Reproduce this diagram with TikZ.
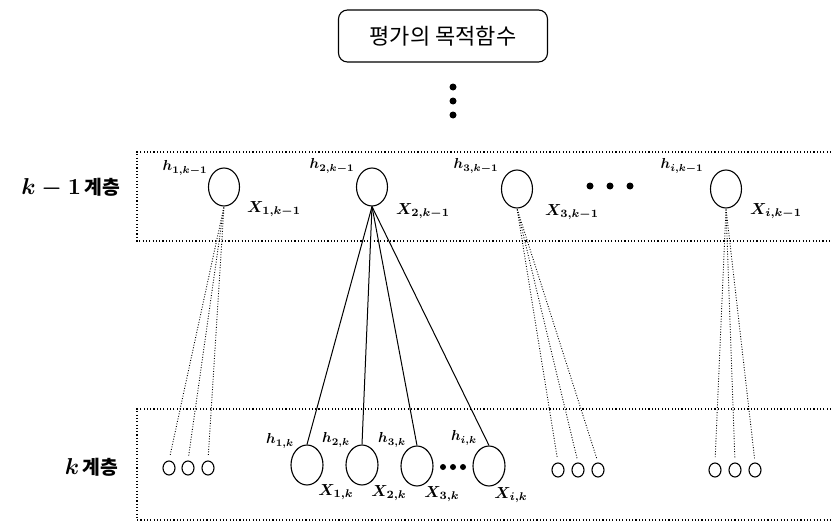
\documentclass[tikz,border=0pt]{standalone}
\usepackage{fontspec}
\newfontfamily\kr{Noto Sans CJK KR}
\usetikzlibrary{shapes.geometric}
\begin{document}
\begin{tikzpicture}[x=1pt,y=-1pt,
  bignode/.style={draw, ellipse, line width=1.1pt, minimum width=31pt, minimum height=38pt, inner sep=0pt},
  lownode/.style={draw, ellipse, line width=1.1pt, minimum width=32pt, minimum height=40pt, inner sep=0pt},
  smallnode/.style={draw, ellipse, line width=1.1pt, minimum width=12pt, minimum height=14pt, inner sep=0pt},
  band/.style={line width=1.1pt, dash pattern=on 1.1pt off 2.2pt},
  dotlink/.style={line width=0.9pt, dash pattern=on 0.9pt off 1.7pt, shorten >=4pt, shorten <=1pt},
  link/.style={line width=1pt},
  blob/.style={circle, fill=black, inner sep=0pt, minimum size=#1},
  xlab/.style={inner sep=0pt, scale=1.6, font=\boldmath},
  hlab/.style={inner sep=0pt, scale=1.45, font=\boldmath},
  layerlab/.style={inner sep=0pt, scale=2.3}
]
\useasboundingbox (0,0) rectangle (831,522);

% title
\node[draw, rounded corners=9pt, line width=1.1pt, minimum width=209pt, minimum height=52pt, inner sep=0pt,
      font=\fontsize{22}{24}\selectfont\kr] (title) at (443,36) {평가의 목적함수};
\node[blob=7pt] (v1) at (453,87) {};
\node[blob=7pt] (v2) at (453,101) {};
\node[blob=7pt] (v3) at (453,115) {};

% bands
\draw[band] (831,152) -- (137,152) -- (137,241) -- (831,241);
\draw[band] (831,409) -- (137,409) -- (137,520) -- (831,520);

% layer labels
\node[layerlab, anchor=east] (lab1) at (121,188) {{\boldmath$k-1$}\,{\kr\bfseries\fontsize{8.4}{10}\selectfont 계층}};
\node[layerlab, anchor=east] (lab2) at (119,467) {{\boldmath$k$}\,{\kr\bfseries\fontsize{8.4}{10}\selectfont 계층}};

% upper nodes
\node[bignode] (u1) at (224,187) {};
\node[bignode] (u2) at (372,187) {};
\node[bignode] (u3) at (517,189) {};
\node[bignode] (ui) at (726,189) {};
\node[blob=7pt] (ud1) at (590,186) {};
\node[blob=7pt] (ud2) at (610,186) {};
\node[blob=7pt] (ud3) at (630,186) {};

\node[hlab] (hu1) at (185,168) {$h_{1,k-1}$};
\node[hlab] (hu2) at (332,166) {$h_{2,k-1}$};
\node[hlab] (hu3) at (476,166) {$h_{3,k-1}$};
\node[hlab] (hui) at (682,166) {$h_{i,k-1}$};
\node[xlab] (xu1) at (274,209) {$X_{1,k-1}$};
\node[xlab] (xu2) at (423,211) {$X_{2,k-1}$};
\node[xlab] (xu3) at (572,212) {$X_{3,k-1}$};
\node[xlab] (xui) at (776,211) {$X_{i,k-1}$};

% lower big nodes
\node[lownode] (l1) at (307,465) {};
\node[lownode] (l2) at (362,465) {};
\node[lownode] (l3) at (417,466) {};
\node[lownode] (li) at (489,466) {};
\node[blob=6pt] (ld1) at (443,467) {};
\node[blob=6pt] (ld2) at (453,467) {};
\node[blob=6pt] (ld3) at (463,467) {};

\node[hlab] (hl1) at (280,441) {$h_{1,k}$};
\node[hlab] (hl2) at (336,440) {$h_{2,k}$};
\node[hlab] (hl3) at (392,440) {$h_{3,k}$};
\node[hlab] (hli) at (464,438) {$h_{i,k}$};
\node[xlab] (xl1) at (336,492) {$X_{1,k}$};
\node[xlab] (xl2) at (389,493) {$X_{2,k}$};
\node[xlab] (xl3) at (442,494) {$X_{3,k}$};
\node[xlab] (xli) at (511,495) {$X_{i,k}$};

% small nodes
\node[smallnode] (s11) at (169,468) {};
\node[smallnode] (s12) at (188,468) {};
\node[smallnode] (s13) at (208,468) {};
\node[smallnode] (s31) at (558,470) {};
\node[smallnode] (s32) at (578,470) {};
\node[smallnode] (s33) at (598,470) {};
\node[smallnode] (si1) at (715,470) {};
\node[smallnode] (si2) at (735,470) {};
\node[smallnode] (si3) at (755,470) {};

% solid links
\foreach \t in {l1,l2,l3,li} \draw[link] (u2.south) -- (\t.north);

% dotted links
\foreach \t in {s11,s12,s13} \draw[dotlink] (u1.south) -- (\t.north);
\foreach \t in {s31,s32,s33} \draw[dotlink] (u3.south) -- (\t.north);
\foreach \t in {si1,si2,si3} \draw[dotlink] (ui.south) -- (\t.north);
\end{tikzpicture}
\end{document}
